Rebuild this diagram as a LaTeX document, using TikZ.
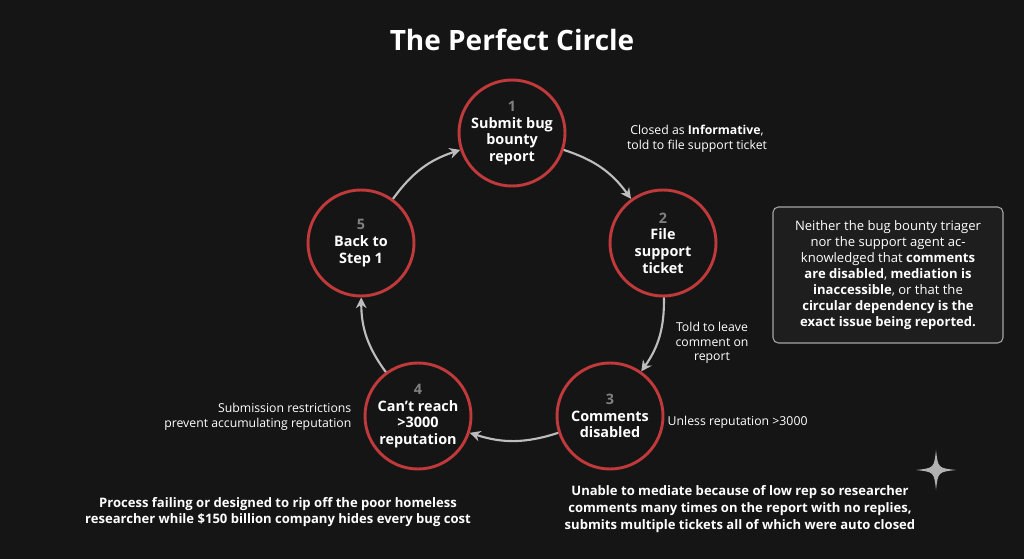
\documentclass[tikz,border=0pt]{standalone}
\usepackage{fontspec}
\setmainfont{Open Sans}
\usetikzlibrary{arrows.meta}
\definecolor{bgdark}{HTML}{151515}
\definecolor{ringred}{HTML}{C0393B}
\definecolor{flowgray}{HTML}{BDBDBD}
\definecolor{boxfill}{HTML}{1E1E1E}
\tikzset{
  stage/.style={circle, draw=ringred, line width=2.2pt, minimum size=106pt*0.75,
    text=white, font=\bfseries\fontsize{10.8}{12.5}\selectfont, align=center, inner sep=0pt},
  flow/.style={draw=flowgray, line width=1.6pt, -{Stealth[length=8pt,width=8pt]}},
  note/.style={text=white, font=\fontsize{9.2}{11}\selectfont, align=center}
}
\newcommand{\stepnum}[1]{{\color{gray}#1}\\}
\begin{document}
\begin{tikzpicture}[x=0.75pt,y=-0.75pt]
  \fill[bgdark] (0,0) rectangle (1024,559);
  \useasboundingbox (0,0) rectangle (1024,559);

  % Title
  \node[text=white, font=\bfseries\fontsize{21}{24}\selectfont] (title) at (512,40) {The Perfect Circle};

  % Steps
  \node[stage] (s1) at (512,133) {\stepnum{1}Submit bug\\bounty\\report};
  \node[stage] (s2) at (663,243) {\stepnum{2}File\\support\\ticket};
  \node[stage] (s3) at (610,416) {\stepnum{3}Comments\\disabled};
  \node[stage] (s4) at (418,416) {\stepnum{4}Can't reach\\>3000\\reputation};
  \node[stage] (s5) at (361,243) {\stepnum{5}Back to\\Step 1};

  % Arrows
  \draw[flow] (s1) to[bend left=18] (s2);
  \draw[flow] (s2) to[bend left=18] (s3);
  \draw[flow] (s3) to[bend left=18] (s4);
  \draw[flow] (s4) to[bend left=18] (s5);
  \draw[flow] (s5) to[bend left=18] (s1);

  % Labels
  \node[note] (l12) at (697,139) {Closed as \textbf{Informative},\\told to file support ticket};
  \node[note] (l23) at (712,343) {Told to leave\\comment on\\report};
  \node[note, anchor=west] (l34) at (663,422) {Unless reputation >3000};
  \node[note, align=right, anchor=east] (l45) at (356,417) {Submission restrictions\\prevent accumulating reputation};

  % Side box
  \node[note, font=\fontsize{9.8}{12}\selectfont, draw=gray!70, fill=boxfill, rounded corners=4pt, line width=0.8pt,
    minimum width=230pt*0.75, minimum height=136pt*0.75] (aside) at (888,275)
    {Neither the bug bounty triager\\nor the support agent ac-\\knowledged that \textbf{comments}\\\textbf{are disabled}, \textbf{mediation is}\\\textbf{inaccessible}, or that the\\\textbf{circular dependency is the}\\\textbf{exact issue being reported.}};

  % Bottom notes
  \node[note, font=\bfseries\fontsize{9.8}{12.5}\selectfont] (leftnote) at (278,512)
    {Process failing or designed to rip off the poor homeless\\researcher while \$150 billion company hides every bug cost};
  \node[note, font=\bfseries\fontsize{9.8}{12.5}\selectfont] (rightnote) at (740,509)
    {Unable to mediate because of low rep so researcher\\comments many times on the report with no replies,\\submits multiple tickets all of which were auto closed};

  % Sparkle
  \fill[gray!60] (936,450) .. controls (938,468) .. (956,470) .. controls (938,472) .. (936,490)
    .. controls (934,472) .. (916,470) .. controls (934,468) .. (936,450) -- cycle;
\end{tikzpicture}
\end{document}
